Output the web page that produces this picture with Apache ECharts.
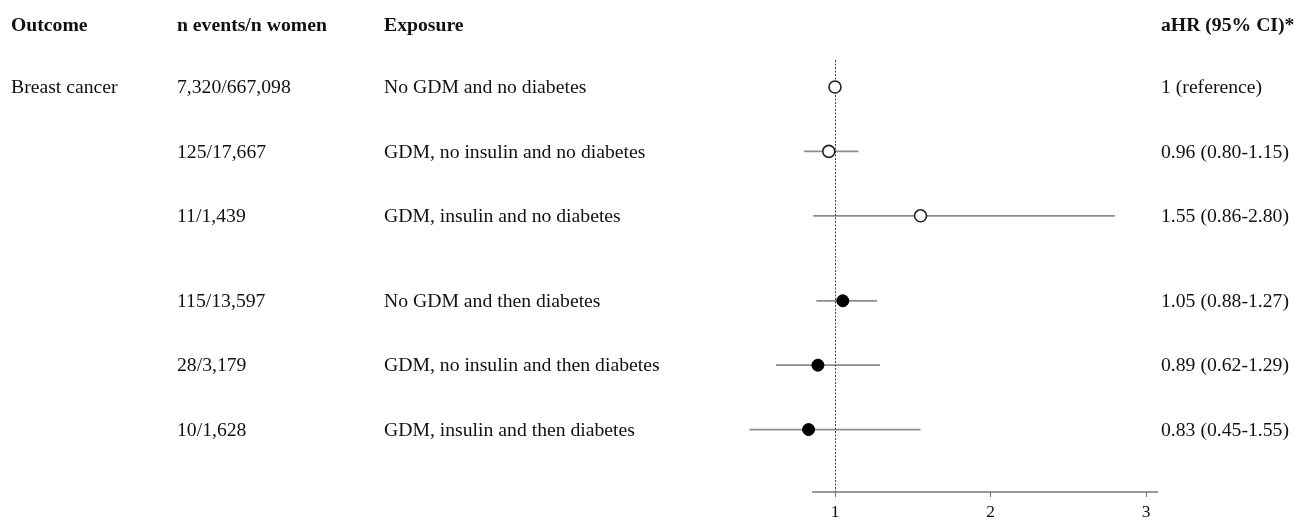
<!DOCTYPE html>
<html>
<head>
    <meta charset="utf-8">
    <title>Forest plot</title>
    <script src="https://cdn.jsdelivr.net/npm/echarts@6/dist/echarts.min.js"></script>
    <style>
        body { margin: 0; background: #fff; }
    </style>
</head>
<body>
    <div id="main" style="width: 1303px;height:521px;"></div>
    <script type="text/javascript">
        // 表格各列文字
        var headers = ['Outcome', 'n events/n women', 'Exposure', 'aHR (95% CI)*'];
        var outcome = ['Breast cancer', '', '', '', '', ''];
        var events = ['7,320/667,098', '125/17,667', '11/1,439', '115/13,597', '28/3,179', '10/1,628'];
        var exposure = ['No GDM and no diabetes', 'GDM, no insulin and no diabetes', 'GDM, insulin and no diabetes',
            'No GDM and then diabetes', 'GDM, no insulin and then diabetes', 'GDM, insulin and then diabetes'];
        var ahrText = ['1 (reference)', '0.96 (0.80-1.15)', '1.55 (0.86-2.80)',
            '1.05 (0.88-1.27)', '0.89 (0.62-1.29)', '0.83 (0.45-1.55)'];

        // 估计值和置信区间
        var hr = [1, 0.96, 1.55, 1.05, 0.89, 0.83];
        var lower = [null, 0.80, 0.86, 0.88, 0.62, 0.45];
        var upper = [null, 1.15, 2.80, 1.27, 1.29, 1.55];
        var diabetes = [false, false, false, true, true, true];   // 实心 = then diabetes

        // 行位置（第三、四行之间有空隙）
        var rowPos = [1, 2, 3, 4.32, 5.32, 6.32];
        var xTicks = [1, 2, 3];
        var axisRange = [0.852, 3.077];

        var yMin = 0.58, yMax = 7.29;
        var font = 'Liberation Serif, Times New Roman, serif';
        var colX = [11, 177, 384, 1161];

        var myChart = echarts.init(document.getElementById('main'));

        var rows = hr.map(function (v, i) { return [v, rowPos[i], i]; });

        var option = {
            animation: false,
            graphic: headers.map(function (h, i) {
                return {
                    type: 'text', left: colX[i], top: 16,
                    style: { text: h, font: 'bold 19.7px ' + font, fill: '#111' }
                };
            }),
            grid: { left: 741.7, right: 141.4, top: 60, bottom: 28 },
            xAxis: {
                type: 'value', min: 0.4, max: 3.1,
                axisLine: { show: false },
                splitLine: { show: false },
                axisTick: { show: true, customValues: xTicks, length: 5, lineStyle: { color: '#777' } },
                axisLabel: { customValues: xTicks, margin: 11, fontSize: 17.5, fontFamily: font, color: '#111' }
            },
            yAxis: {
                type: 'value', min: yMin, max: yMax, inverse: true, show: false
            },
            series: [
                {
                    // 表格文字
                    type: 'custom',
                    data: rows,
                    silent: true,
                    renderItem: function (params, api) {
                        var i = api.value(2);
                        var y = api.coord([1, api.value(1)])[1];
                        var cols = [outcome[i], events[i], exposure[i], ahrText[i]];
                        return {
                            type: 'group',
                            children: cols.map(function (t, c) {
                                return {
                                    type: 'text',
                                    style: {
                                        text: t, x: colX[c], y: y + 1,
                                        verticalAlign: 'middle', align: 'left',
                                        font: '19.7px ' + font, fill: '#111'
                                    }
                                };
                            })
                        };
                    }
                },
                {
                    // 置信区间
                    type: 'custom',
                    data: rows,
                    silent: true,
                    clip: false,
                    z: 2,
                    renderItem: function (params, api) {
                        var i = api.value(2);
                        if (lower[i] == null) return;
                        var a = api.coord([lower[i], rowPos[i]]);
                        var b = api.coord([upper[i], rowPos[i]]);
                        return {
                            type: 'line',
                            shape: { x1: a[0], y1: a[1], x2: b[0], y2: b[1] },
                            style: { stroke: '#8c8c8c', lineWidth: 1.8 }
                        };
                    },
                    markLine: {
                        silent: true,
                        symbol: 'none',
                        label: { show: false },
                        lineStyle: { color: '#444', type: [2, 1.5], width: 1 },
                        data: [{ xAxis: 1 }]
                    }
                },
                {
                    // 横轴线
                    type: 'line',
                    data: [[axisRange[0], yMax], [axisRange[1], yMax]],
                    symbol: 'none',
                    silent: true,
                    clip: false,
                    lineStyle: { color: '#777', width: 1.5 }
                },
                {
                    type: 'scatter',
                    z: 5,
                    symbolSize: 12,
                    data: rows.map(function (r, i) {
                        return {
                            value: r,
                            itemStyle: diabetes[i]
                                ? { color: '#000', borderColor: '#000', borderWidth: 1, opacity: 1 }
                                : { color: '#fff', borderColor: '#222', borderWidth: 1.6, opacity: 1 }
                        };
                    })
                }
            ]
        };

        myChart.setOption(option);
    </script>
</body>
</html>
